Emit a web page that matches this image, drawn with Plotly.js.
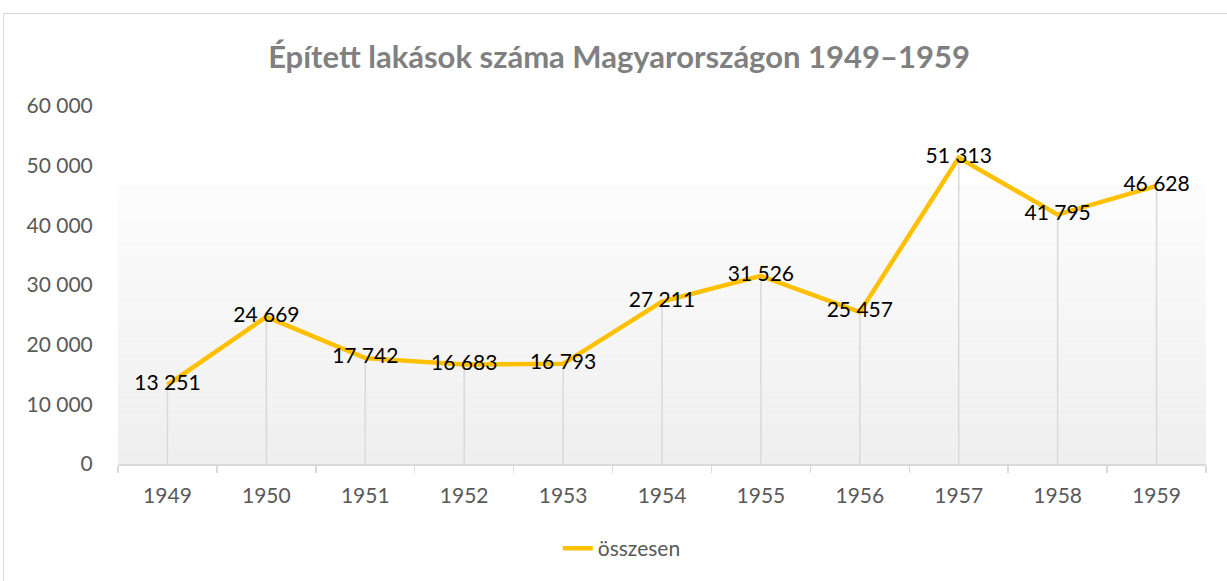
<!DOCTYPE html>
<html>
<head>
<meta charset="utf-8">
<script src="https://cdn.plot.ly/plotly-3.0.1.min.js"></script>
<style>
  html, body { margin: 0; padding: 0; background: #ffffff; overflow: hidden; }
  #frame { position: absolute; left: 3px; top: 13px; width: 1400px; height: 800px; border: 1px solid #d9d9d9; box-sizing: border-box; }
  #chart { position: absolute; left: 0; top: 0; width: 1227px; height: 581px; }
</style>
</head>
<body>
<div id="frame"></div>
<div id="chart"></div>
<script>
const years = ['1949','1950','1951','1952','1953','1954','1955','1956','1957','1958','1959'];
const osszesen = [13251, 24669, 17742, 16683, 16793, 27211, 31526, 25457, 51313, 41795, 46628];
const yTicks = [0, 10000, 20000, 30000, 40000, 50000, 60000];
const seriesName = 'összesen';
const chartTitle = 'Épített lakások száma Magyarországon 1949–1959';

// background gradient bands (plot-area decoration)
const shapes = [];
const nBands = 40, gTop = 0.78;
for (let i = 0; i < nBands; i++) {
  const y0 = gTop * i / nBands, y1 = gTop * (i + 1) / nBands;
  const t = (i + 0.5) / nBands;            // 0 bottom -> 1 top
  const c = Math.round(239 + (252 - 239) * t);
  shapes.push({type:'rect', xref:'paper', yref:'paper', x0:0, x1:1, y0:y0, y1:y1,
    fillcolor:`rgb(${c},${c},${c})`, line:{width:0}, layer:'below'});
}

const dropLines = {
  x: years, y: osszesen, type: 'scatter', mode: 'markers',
  marker: {size: 0.1, color: 'rgba(0,0,0,0)'},
  error_y: {type:'data', symmetric:false, array: osszesen.map(() => 0), arrayminus: osszesen,
            width: 0, color: '#d9d9d9', thickness: 1.5},
  showlegend: false, hoverinfo: 'skip'
};
const line = {
  x: years, y: osszesen, type: 'scatter', mode: 'lines+text', name: seriesName,
  line: {color: '#FFC000', width: 4.5},
  texttemplate: '%{y:,d}',
  textposition: 'middle center',
  textfont: {family: 'Lato, sans-serif', size: 21, color: '#000000'},
  cliponaxis: false
};

const layout = {
  width: 1227, height: 581,
  separators: ', ',
  paper_bgcolor: 'rgba(0,0,0,0)', plot_bgcolor: 'rgba(0,0,0,0)',
  margin: {l: 118, r: 21, t: 106, b: 115},
  title: {text: chartTitle, xref: 'container', yref: 'container', x: 0.5045, y: 0.902,
          xanchor: 'center', yanchor: 'middle',
          font: {family: 'Lato, sans-serif', size: 31, color: '#808080', weight: 'bold'}},
  xaxis: {type: 'category', range: [-0.5, 10.5], tickson: 'boundaries', ticks: 'outside', ticklen: 7,
          tickcolor: '#d9d9d9', tickwidth: 1.5, showline: true, linecolor: '#d9d9d9', linewidth: 1.5,
          showgrid: false, zeroline: false, ticklabelstandoff: 12,
          tickfont: {family: 'Lato, sans-serif', size: 21, color: '#595959'}},
  yaxis: {range: [0, 60000], tickvals: yTicks, tickformat: ',d', showgrid: false, zeroline: false,
          showline: false, ticks: 'outside', ticklen: 20, tickcolor: 'rgba(0,0,0,0)',
          tickfont: {family: 'Lato, sans-serif', size: 21, color: '#595959'}},
  legend: {orientation: 'h', x: 0.463, xanchor: 'center', y: -0.236, yanchor: 'middle',
           font: {family: 'Lato, sans-serif', size: 21, color: '#595959'}, bgcolor: 'rgba(0,0,0,0)'},
  shapes: shapes,
  showlegend: true
};

Plotly.newPlot('chart', [dropLines, line], layout, {displayModeBar: false, staticPlot: true});
</script>
</body>
</html>
